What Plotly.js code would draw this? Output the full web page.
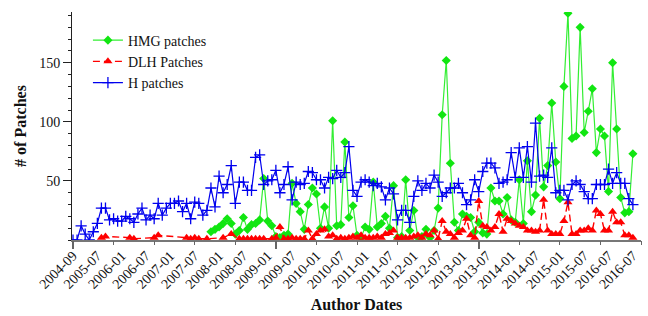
<!DOCTYPE html>
<html>
<head>
<meta charset="utf-8">
<script src="https://cdn.plot.ly/plotly-3.0.1.min.js"></script>
<style>html,body{margin:0;padding:0;background:#fff;}#chart{width:648px;height:316px;}</style>
</head>
<body>
<div id="chart"></div>
<script>
// Tick labels (every 6th month index)
const tickLabels = ['2004-09','2005-07','2006-01','2006-07','2007-01','2007-07','2008-01','2008-07',
  '2009-01','2009-07','2010-01','2010-07','2011-01','2011-07','2012-01','2012-07','2013-01','2013-07',
  '2014-01','2014-07','2015-01','2015-07','2016-07','2016-07'];
const labelStep = 6;

// H patches: index 0..138
const hValues = [0,0,12,5,0,7,14,27,27,17,
  18,16,16,20,18,15,22,27,17,21,
  18,31,21,27,31,31,33,24,31,18,
  32,31,21,25,44,28,54,40,47,63,
  31,49,49,42,42,70,72,47,50,51,
  59,40,47,62,34,49,47,48,58,57,
  51,51,44,53,52,59,53,57,79,42,
  37,49,51,49,46,48,45,34,44,39,
  17,25,25,15,37,50,42,48,44,55,
  49,37,40,44,44,48,40,30,34,51,
  41,58,65,65,61,48,49,51,74,53,
  78,53,79,49,99,54,55,53,78,40,
  42,42,34,47,50,47,41,35,35,47,
  47,47,60,48,57,48,48,35,30];

// HMG patches: starts at index 34
const hmgStart = 34;
const hmgValues = [7,9,11,14,18,14,5,8,19,9,
  13,14,17,52,16,12,3,2,4,5,
  48,31,24,9,30,44,39,10,28,10,
  101,12,13,83,19,29,4,2,11,9,
  49,11,14,20,10,46,2,3,51,8,
  25,2,3,9,2,8,27,106,152,65,
  15,8,22,20,19,7,15,6,5,44,
  33,33,22,36,17,15,51,14,67,24,
  38,103,45,63,116,66,35,130,192,86,
  88,180,91,109,128,74,94,88,41,150,
  94,36,23,24,73];

// DLH Patches: sparse early months
const dlhIdx = [7,8,14,15,20,21,28,29,30,31,33,37,39,41,42,43,44,45,46,47,49,50,
  51,52,53,54,55,56,57,58,59,60,61,62,63,64,65,66,67,68,69,70,
  71,72,73,74,75,76,77,78,79,80,81,82,83,84,85,86,87,88,89,90,
  91,92,93,94,95,96,97,98,99,100,101,102,103,104,105,106,107,108,109,110,
  111,112,113,114,115,116,117,118,119,120,121,122,123,124,125,126,127,128,129,130,
  131,132,133,134,135,136,137,138];
const dlhValues = [2,3,2,1,2,4,2,1,2,1,1,2,5,1,1,1,1,1,1,1,1,2,
  11,1,1,2,1,1,1,8,1,5,
  8,9,3,4,1,2,1,2,3,2,
  4,2,2,2,3,2,5,6,8,2,
  2,2,2,3,4,2,5,4,8,1,
  16,7,5,2,6,8,18,4,2,33,
  12,11,8,11,22,7,18,16,14,12,
  11,8,8,7,8,34,8,5,5,5,
  16,32,5,5,8,8,10,8,25,22,
  8,8,24,15,15,4,4,2];

const hIdx = hValues.map((_, i) => i);
const hmgIdx = hmgValues.map((_, i) => hmgStart + i);
const labelPos = tickLabels.map((_, i) => i * labelStep);

const FONT = 'Liberation Serif, Times New Roman, serif';
const xr = [-0.25, 140];

const traces = [
  {x: hmgIdx, y: hmgValues, name: 'HMG patches', mode: 'lines+markers', type: 'scatter',
   line: {color: '#33ee33', width: 1.2},
   marker: {symbol: 'diamond', size: 7, color: '#11e611'}},
  {x: dlhIdx, y: dlhValues, name: 'DLH Patches', mode: 'lines+markers', type: 'scatter',
   line: {color: '#ff0000', width: 1.4, dash: '7px,4px'},
   marker: {symbol: 'triangle-up', size: 8, color: '#ff0000'}},
  {x: hIdx, y: hValues, name: 'H patches', mode: 'lines+markers', type: 'scatter',
   line: {color: '#0000ee', width: 1.2},
   marker: {symbol: 'cross-thin', size: 8, line: {color: '#0000ee', width: 1.3}}},
  {x: [], y: [], xaxis: 'x2', yaxis: 'y', showlegend: false, hoverinfo: 'skip', type: 'scatter'}
];

const layout = {
  width: 648, height: 316,
  margin: {l: 72, r: 7, t: 12, b: 76},
  paper_bgcolor: '#fff', plot_bgcolor: '#fff',
  font: {family: FONT, size: 14, color: '#111'},
  showlegend: true,
  legend: {x: 0.028, y: 0.945, xanchor: 'left', yanchor: 'top', bgcolor: 'rgba(0,0,0,0)',
           font: {family: FONT, size: 14, color: '#111'}, tracegroupgap: 0},
  xaxis: {
    range: xr, tickmode: 'array', tickvals: labelPos, ticktext: tickLabels,
    tickangle: -45, ticks: '', showgrid: false, zeroline: false,
    showline: true, linecolor: '#777', linewidth: 2,
    tickfont: {family: FONT, size: 14, color: '#111'},
    title: {text: '<b>Author Dates</b>', font: {family: FONT, size: 16, color: '#111'}, standoff: 8}
  },
  xaxis2: {
    range: xr, overlaying: 'x', anchor: 'y', side: 'bottom',
    tickmode: 'array', tickvals: [0, 50, 100], ticks: 'outside', ticklen: 8, tickwidth: 2,
    tickcolor: '#666', showticklabels: false, showgrid: false, zeroline: false, showline: false,
    minor: {tickmode: 'linear', tick0: 0, dtick: 10, ticks: 'outside', ticklen: 4, tickwidth: 1, tickcolor: '#666', showgrid: false}
  },
  yaxis: {
    range: [0, 193], tickmode: 'array', tickvals: [50, 100, 150], ticktext: ['50', '100', '150'],
    ticks: 'outside', ticklen: 8, tickwidth: 1, tickcolor: '#222',
    minor: {tickmode: 'linear', tick0: 0, dtick: 10, ticks: 'outside', ticklen: 3, tickcolor: '#222', showgrid: false},
    showgrid: false, zeroline: false, showline: true, linecolor: '#222', linewidth: 1,
    tickfont: {family: FONT, size: 14, color: '#111'},
    title: {text: '<b># of Patches</b>', font: {family: FONT, size: 16, color: '#111'}, standoff: 8}
  }
};

Plotly.newPlot('chart', traces, layout, {displayModeBar: false, staticPlot: true});
</script>
</body>
</html>
